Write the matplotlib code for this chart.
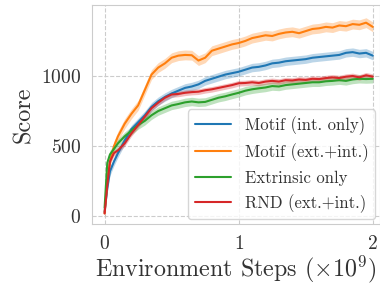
import matplotlib
matplotlib.use("Agg")
import matplotlib.pyplot as plt
import numpy as np
import seaborn as sns

# environment steps (x1e9)
steps = [0, 0.02, 0.04, 0.07, 0.1, 0.15, 0.2, 0.25, 0.3, 0.35, 0.4, 0.45, 0.5, 0.55,
         0.6, 0.65, 0.7, 0.75, 0.8, 0.85, 0.9, 0.95, 1.0, 1.05, 1.1, 1.15, 1.2, 1.25,
         1.3, 1.35, 1.4, 1.45, 1.5, 1.55, 1.6, 1.65, 1.7, 1.75, 1.8, 1.85, 1.9, 1.95, 2.0]

motif_int = [30, 200, 320, 390, 450, 540, 620, 670, 720, 780, 820, 850, 875, 895,
             915, 925, 940, 965, 980, 995, 1010, 1020, 1030, 1045, 1060, 1065, 1075, 1090,
             1095, 1105, 1110, 1115, 1120, 1130, 1135, 1140, 1145, 1150, 1165, 1170, 1160, 1165, 1145]

motif_ext_int = [20, 250, 390, 500, 570, 660, 730, 790, 900, 1010, 1060, 1090, 1130, 1145,
                 1150, 1148, 1110, 1130, 1180, 1195, 1210, 1225, 1235, 1250, 1270, 1280, 1290, 1285,
                 1300, 1310, 1315, 1305, 1320, 1335, 1340, 1350, 1345, 1360, 1355, 1370, 1365, 1380, 1350]

extrinsic = [60, 380, 440, 480, 520, 570, 610, 650, 680, 720, 750, 770, 790, 800,
             812, 818, 812, 815, 830, 845, 855, 868, 880, 895, 905, 912, 918, 928,
             925, 935, 940, 945, 950, 955, 955, 962, 965, 970, 965, 975, 980, 978, 980]

rnd = [20, 220, 390, 450, 470, 520, 590, 650, 710, 770, 810, 845, 868, 872,
       880, 885, 888, 898, 905, 915, 925, 935, 948, 950, 955, 950, 960, 965,
       960, 970, 968, 975, 972, 980, 978, 985, 990, 985, 995, 1000, 990, 1005, 995]

labels = ["Motif (int. only)", "Motif (ext.+int.)", "Extrinsic only", "RND (ext.+int.)"]
band_halfwidth = [30, 35, 30, 20]

sns.set_style("whitegrid", {"grid.linestyle": "--"})
plt.rcParams["font.family"] = "serif"
plt.rcParams["font.serif"] = ["cmr10"]
plt.rcParams["mathtext.fontset"] = "cm"
plt.rcParams["axes.formatter.use_mathtext"] = True

fig = plt.figure(figsize=(3.8, 2.86), dpi=100)
ax = fig.add_axes([0.241, 0.216, 0.759, 0.7665])

colors = ["#1f77b4", "#ff7f0e", "#2ca02c", "#d62728"]
series = [motif_int, motif_ext_int, extrinsic, rnd]
x = np.array(steps)
for vals, lab, c, hw in zip(series, labels, colors, band_halfwidth):
    v = np.array(vals, dtype=float)
    ax.fill_between(x, v - hw, v + hw, color=c, alpha=0.3, linewidth=0)
    ax.plot(x, v, color=c, lw=1.5, label=lab)

ax.set_xlim(-0.097, 2.054)
ax.set_ylim(-57, 1506)
ax.set_xticks([0, 1, 2])
ax.set_yticks([0, 500, 1000])
ax.tick_params(labelsize=14, colors="#333333", pad=4)
ax.grid(True, linestyle="--", color="#cccccc", linewidth=0.8)
for s in ax.spines.values():
    s.set_color("#cccccc")

ax.set_xlabel(r"Environment Steps ($\times 10^9$)", fontsize=17.3, color="#333333", labelpad=1)
ax.set_ylabel("Score", fontsize=17.5, color="#333333")

ax.legend(loc="lower right", fontsize=12, frameon=True, handlelength=2.2,
          borderaxespad=0.3, labelcolor="#333333")

fig.savefig("out.png", dpi=100)
